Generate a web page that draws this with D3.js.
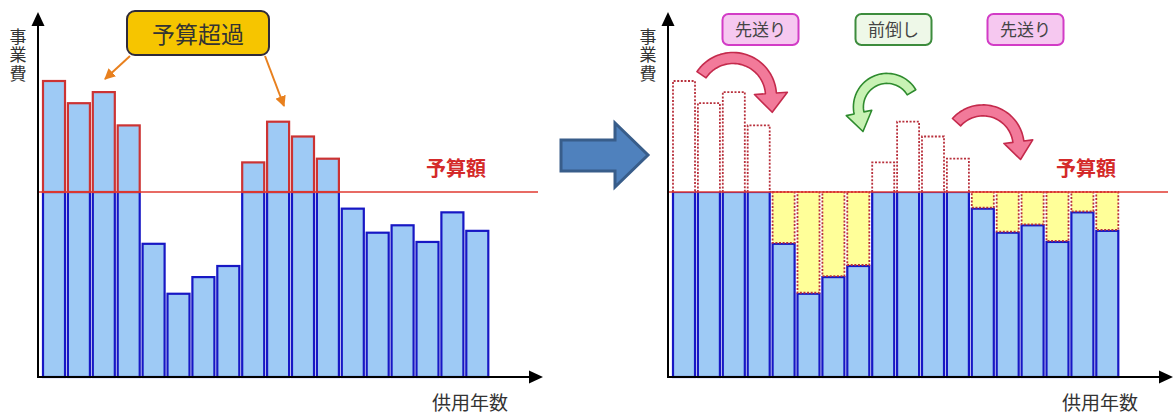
<!DOCTYPE html>
<html><head><meta charset="utf-8">
<script src="https://cdn.jsdelivr.net/npm/d3@7"></script>
<style>
body{margin:0;background:#fff}
svg{display:block;font-family:"Noto Sans CJK JP","Noto Sans",sans-serif}
</style>
</head><body>
<svg id="c" width="1174" height="414"></svg>
<script>
// ---- data ----
const years = ["1","2","3","4","5","6","7","8","9","10","11","12","13","14","15","16","17","18"];
const costs = [160,148,154,136,72,45,54,60,116,138,130,118,91,78,82,73,89,79];
const budget = 100;
const yAxisLabel = "事業費";
const xAxisLabel = "供用年数";
const budgetLabel = "予算額";
const calloutLabel = "予算超過";
const shiftLabels = ["先送り","前倒し","先送り"];

// ---- layout ----
const svg = d3.select("#c");
const x = d3.scaleBand().domain(years).range([43, 488.3]).paddingInner(0.116).paddingOuter(0);
const y = d3.scaleLinear().domain([0, budget]).range([377, 192]);
const axisX0 = 38, axisTop = 12, axisRight = 543;

const C = {
  fill: "#9ECAF5", blue: "#1717C4", red: "#CC3333", line: "#E03a30",
  dot: "#B8303C", yellow: "#FFFF99"
};

function axes(g) {
  g.append("line").attr("x1", axisX0).attr("x2", axisX0).attr("y1", y(0)+1).attr("y2", axisTop+10)
    .attr("stroke", "#000").attr("stroke-width", 2);
  g.append("path").attr("d", `M${axisX0},${axisTop} L${axisX0-6.5},${axisTop+14} L${axisX0+6.5},${axisTop+14}Z`).attr("fill", "#000");
  g.append("line").attr("x1", axisX0).attr("x2", axisRight-10).attr("y1", y(0)).attr("y2", y(0))
    .attr("stroke", "#000").attr("stroke-width", 2);
  g.append("path").attr("d", `M${axisRight},${y(0)} L${axisRight-14},${y(0)-6.5} L${axisRight-14},${y(0)+6.5}Z`).attr("fill", "#000");
  g.append("text").attr("x", 18).attr("y", 28)
    .style("writing-mode", "vertical-rl").style("letter-spacing", "1.5px")
    .attr("font-size", 17).attr("fill", "#333").text(yAxisLabel);
  g.append("text").attr("x", 508).attr("y", 410).attr("text-anchor","end")
    .attr("font-size", 19).attr("fill", "#333").text(xAxisLabel);
}

function budgetLine(g) {
  g.append("line").attr("x1", axisX0).attr("x2", 538).attr("y1", y(budget)).attr("y2", y(budget))
    .attr("stroke", C.line).attr("stroke-width", 1.6);
  g.append("text").attr("x", 456).attr("y", 176).attr("text-anchor","middle")
    .attr("font-size", 20).attr("font-weight", "bold").attr("fill", "#D42A2A").text(budgetLabel);
}

// ---- left panel ----
const L = svg.append("g");
const data = years.map((k,i) => ({k, v: costs[i]}));
L.selectAll("rect.bar").data(data).join("rect").attr("class","bar")
  .attr("x", d => x(d.k)).attr("width", x.bandwidth())
  .attr("y", d => y(Math.min(d.v, budget))).attr("height", d => y(0) - y(Math.min(d.v, budget)))
  .attr("fill", C.fill).attr("stroke", C.blue).attr("stroke-width", 2.2);
L.selectAll("rect.over").data(data.filter(d => d.v > budget)).join("rect").attr("class","over")
  .attr("x", d => x(d.k)).attr("width", x.bandwidth())
  .attr("y", d => y(d.v)).attr("height", d => y(budget) - y(d.v))
  .attr("fill", C.fill).attr("stroke", C.red).attr("stroke-width", 2.2);
budgetLine(L);
axes(L);

// callout
L.append("rect").attr("x", 127).attr("y", 11).attr("width", 142).attr("height", 44).attr("rx", 8)
  .attr("fill", "#F6C500").attr("stroke", "#2E2A3A").attr("stroke-width", 2);
L.append("text").attr("x", 198).attr("y", 43).attr("text-anchor","middle")
  .attr("font-size", 23).attr("fill", "#333").text(calloutLabel);
const defs = svg.append("defs");
defs.append("marker").attr("id","oh").attr("viewBox","0 0 10 10").attr("refX",9).attr("refY",5)
  .attr("markerWidth",5.5).attr("markerHeight",5.5).attr("orient","auto")
  .append("path").attr("d","M0,0 L10,5 L0,10Z").attr("fill","#E8801E");
[[130,56,105,79],[265,56,284,106]].forEach(([a,b,c,d]) => {
  L.append("line").attr("x1",a).attr("y1",b).attr("x2",c).attr("y2",d)
    .attr("stroke","#E8801E").attr("stroke-width",2).attr("marker-end","url(#oh)");
});

// big arrow
svg.append("path").attr("d","M561,140 L615,140 L615,123 L648,155 L615,187 L615,171 L561,171Z")
  .attr("fill","#4F81BD").attr("stroke","#385D8A").attr("stroke-width",3).attr("stroke-linejoin","miter");

// ---- right panel ----
const R = svg.append("g").attr("transform","translate(630,0)");
R.selectAll("rect.bar").data(data).join("rect").attr("class","bar")
  .attr("x", d => x(d.k)).attr("width", x.bandwidth())
  .attr("y", d => y(Math.min(d.v, budget))).attr("height", d => y(0) - y(Math.min(d.v, budget)))
  .attr("fill", C.fill).attr("stroke", C.blue).attr("stroke-width", 2.2);
// deferred (above budget) dotted outlines
R.selectAll("path.over").data(data.filter(d => d.v > budget)).join("path").attr("class","over")
  .attr("d", d => `M${x(d.k)},${y(budget)} V${y(d.v)} H${x(d.k)+x.bandwidth()} V${y(budget)}`)
  .attr("fill", "#fff").attr("stroke", C.dot).attr("stroke-width", 1.8).attr("stroke-dasharray","2,1.6");
// absorbed (below budget) yellow
R.selectAll("rect.gap").data(data.filter(d => d.v < budget)).join("rect").attr("class","gap")
  .attr("x", d => x(d.k)).attr("width", x.bandwidth())
  .attr("y", y(budget)).attr("height", d => y(d.v) - y(budget) - 1)
  .attr("fill", C.yellow).attr("stroke", C.dot).attr("stroke-width", 1.8).attr("stroke-dasharray","2,1.6");
budgetLine(R);
axes(R);

// labels boxes
const boxes = [
  {t: shiftLabels[0], cx: 130.5, fill:"#F6C8F0", stroke:"#D23CC6"},
  {t: shiftLabels[1], cx: 263.5, fill:"#EEF8E8", stroke:"#3D8C3D"},
  {t: shiftLabels[2], cx: 395.5, fill:"#F6C8F0", stroke:"#D23CC6"}
];
boxes.forEach(b => {
  R.append("rect").attr("x", b.cx-38).attr("y", 14).attr("width", 76).attr("height", 31).attr("rx", 6)
    .attr("fill", b.fill).attr("stroke", b.stroke).attr("stroke-width", 2);
  R.append("text").attr("x", b.cx).attr("y", 36).attr("text-anchor","middle")
    .attr("font-size", 17).attr("fill", "#444").text(b.t);
});

function curvedArrow(cx, cy, Rr, w, a0, a1, hw, hl) {
  const rad = d => d*Math.PI/180;
  const pt = (r, a) => [cx + r*Math.cos(rad(a)), cy - r*Math.sin(rad(a))];
  const n = 40;
  const outer = d3.range(n+1).map(i => pt(Rr + w/2, a0 + (a1-a0)*i/n));
  const inner = d3.range(n+1).map(i => pt(Rr - w/2, a1 - (a1-a0)*i/n));
  const t = rad(a1);
  const dir = (a1 > a0) ? [-Math.sin(t), -Math.cos(t)] : [Math.sin(t), Math.cos(t)];
  const base = pt(Rr, a1);
  const tip = [base[0] + hl*dir[0], base[1] + hl*dir[1]];
  return d3.line()([...outer, pt(Rr + hw, a1), tip, pt(Rr - hw, a1), ...inner]) + "Z";
}
svg.append("path").attr("d", curvedArrow(733, 96, 38, 11, 146, 4, 16.5, 19))
  .attr("fill","#F27A9A").attr("stroke","#C42A4C").attr("stroke-width",1.6).attr("stroke-linejoin","round");
svg.append("path").attr("d", curvedArrow(887, 107, 28.6, 10, 31, 192, 13, 19))
  .attr("fill","#C8F2B4").attr("stroke","#2E8B2E").attr("stroke-width",1.6).attr("stroke-linejoin","round");
svg.append("path").attr("d", curvedArrow(983, 146, 35.6, 11, 138, 7, 14.5, 18))
  .attr("fill","#F27A9A").attr("stroke","#C42A4C").attr("stroke-width",1.6).attr("stroke-linejoin","round");
</script>
</body></html>
